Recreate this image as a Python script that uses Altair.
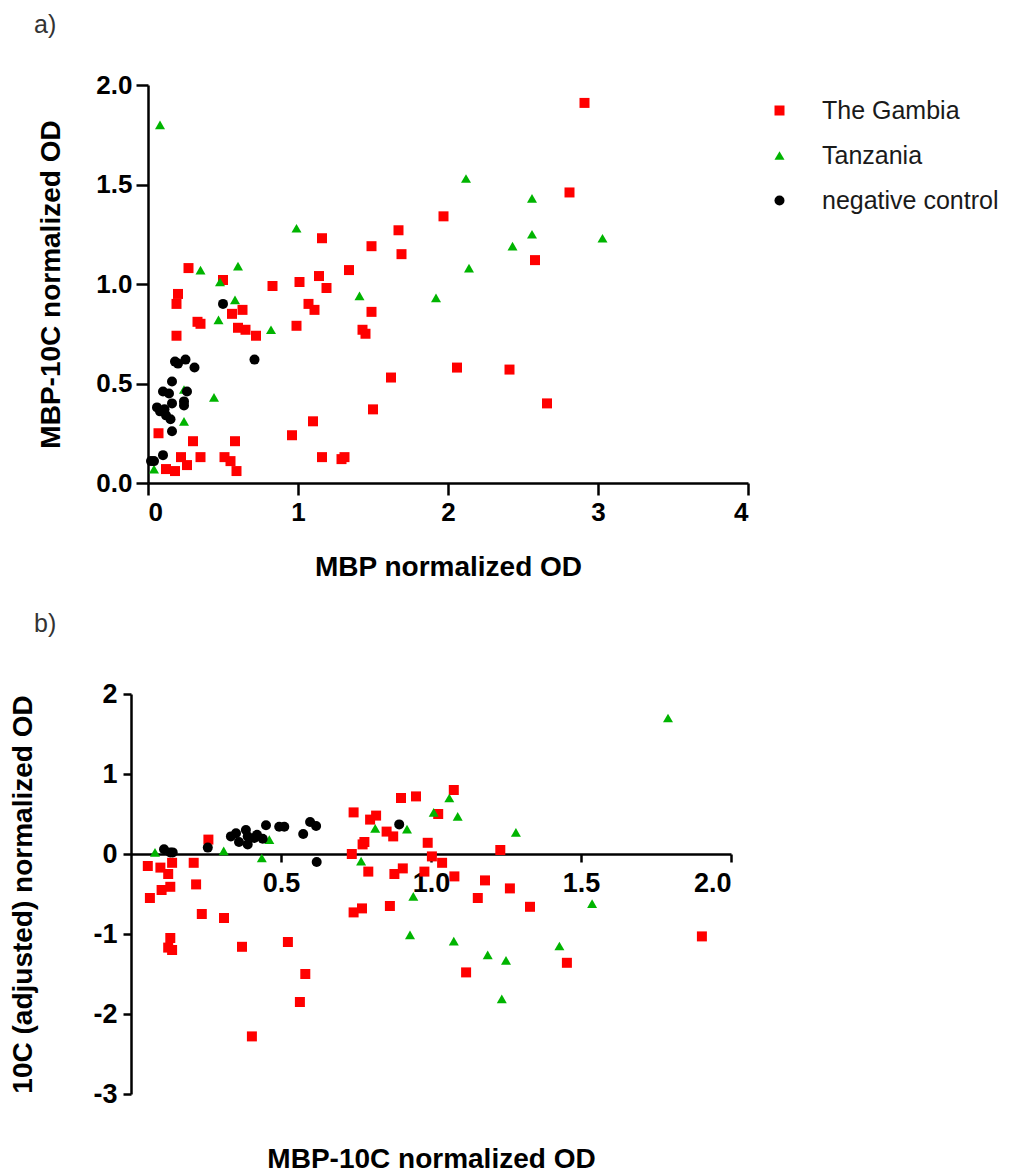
import altair as alt
import pandas as pd

FONT = "Liberation Sans"
groups = ["The Gambia", "Tanzania", "negative control"]
colors = ["#ff0000", "#00b400", "#000000"]
shapes = ["square", "triangle-up", "circle"]

# ---------------- panel a: MBP (x) vs MBP-10C (y) ----------------
a_gambia_x = [0.27, 0.50, 0.20, 0.19, 0.19, 0.33, 0.35, 0.56, 0.63, 0.60, 0.65, 0.72, 0.83, 0.99,
              1.01, 1.07, 1.11, 1.14, 1.16, 1.19, 1.34, 1.49, 1.49, 1.43, 1.45, 1.67, 1.69, 1.97,
              2.06, 1.62, 1.50, 1.10, 0.96, 1.16, 1.29, 1.31, 0.07, 0.30, 0.58, 0.22, 0.35, 0.26,
              0.51, 0.55, 0.59, 0.12, 0.18, 2.91, 2.81, 2.58, 2.41, 2.66]
a_gambia_y = [1.08, 1.02, 0.95, 0.90, 0.74, 0.81, 0.80, 0.85, 0.87, 0.78, 0.77, 0.74, 0.99, 0.79,
              1.01, 0.90, 0.87, 1.04, 1.23, 0.98, 1.07, 1.19, 0.86, 0.77, 0.75, 1.27, 1.15, 1.34,
              0.58, 0.53, 0.37, 0.31, 0.24, 0.13, 0.12, 0.13, 0.25, 0.21, 0.21, 0.13, 0.13, 0.09,
              0.13, 0.11, 0.06, 0.07, 0.06, 1.91, 1.46, 1.12, 0.57, 0.40]
a_tanzania_x = [0.08, 0.99, 0.35, 0.60, 0.48, 0.58, 0.47, 0.82, 1.41, 1.92, 0.44, 0.24, 0.24, 0.04,
                2.12, 2.56, 2.56, 3.03, 2.43, 2.14]
a_tanzania_y = [1.80, 1.28, 1.07, 1.09, 1.01, 0.92, 0.82, 0.77, 0.94, 0.93, 0.43, 0.47, 0.31, 0.07,
                1.53, 1.43, 1.25, 1.23, 1.19, 1.08]
a_negative_x = [0.50, 0.71, 0.18, 0.25, 0.31, 0.16, 0.10, 0.26, 0.24, 0.06, 0.11, 0.16, 0.12, 0.15,
                0.24, 0.16, 0.10, 0.04, 0.02, 0.14, 0.08, 0.20]
a_negative_y = [0.90, 0.62, 0.61, 0.62, 0.58, 0.51, 0.46, 0.46, 0.41, 0.38, 0.37, 0.40, 0.34, 0.32,
                0.39, 0.26, 0.14, 0.11, 0.11, 0.45, 0.36, 0.60]

# ---------------- panel b: MBP-10C (x) vs 10C adjusted (y) ----------------
b_gambia_x = [0.056, 0.098, 0.124, 0.137, 0.063, 0.102, 0.131, 0.209, 0.217, 0.258, 0.236, 0.31,
              0.131, 0.124, 0.137, 0.37, 0.523, 0.581, 0.563, 0.403,
              0.742, 0.736, 0.772, 0.778, 0.791, 0.742, 0.77, 0.817, 0.797, 0.852, 0.874, 0.878,
              0.906, 0.863, 0.989, 1.003, 1.037, 0.978, 1.024,
              0.90, 0.95, 1.076, 1.231, 1.078, 1.18, 1.263, 1.156, 1.33, 1.117, 1.453, 1.903]
b_gambia_y = [-0.15, -0.17, -0.25, -0.11, -0.55, -0.45, -0.41, -0.11, -0.38, 0.18, -0.75, -0.80,
              -1.05, -1.17, -1.20, -1.16, -1.10, -1.50, -1.85, -2.28,
              0.52, 0.00, 0.12, 0.15, -0.22, -0.73, -0.68, 0.48, 0.43, 0.28, 0.22, -0.25,
              -0.18, -0.65, 0.14, -0.03, -0.11, -0.22, 0.50,
              0.70, 0.72, 0.80, 0.05, -0.28, -0.33, -0.43, -0.55, -0.66, -1.48, -1.36, -1.03]
b_tanzania_x = [0.08, 0.309, 0.436, 0.461, 0.814, 0.92, 1.009, 0.767, 0.941, 0.93, 1.061, 1.089,
                1.283, 1.076, 1.189, 1.25, 1.236, 1.428, 1.537, 1.79]
b_tanzania_y = [0.02, 0.04, -0.05, 0.18, 0.32, 0.31, 0.52, -0.09, -0.53, -1.01, 0.70, 0.47,
                0.27, -1.09, -1.26, -1.33, -1.81, -1.15, -0.62, 1.70]
b_negative_x = [0.11, 0.131, 0.139, 0.256, 0.333, 0.35, 0.383, 0.389, 0.389, 0.411, 0.439, 0.45,
                0.494, 0.511, 0.574, 0.597, 0.617, 0.619, 0.894, 0.36, 0.42]
b_negative_y = [0.06, 0.02, 0.02, 0.08, 0.22, 0.26, 0.30, 0.22, 0.12, 0.20, 0.19, 0.36,
                0.34, 0.34, 0.25, 0.40, 0.35, -0.10, 0.37, 0.15, 0.24]


def build(series):
    frames = []
    for g, (xs, ys) in zip(groups, series):
        frames.append(pd.DataFrame({"x": xs, "y": ys, "group": g}))
    return pd.concat(frames, ignore_index=True)


df_a = build([(a_gambia_x, a_gambia_y), (a_tanzania_x, a_tanzania_y), (a_negative_x, a_negative_y)])
df_b = build([(b_gambia_x, b_gambia_y), (b_tanzania_x, b_tanzania_y), (b_negative_x, b_negative_y)])

axis_common = dict(
    labelFont=FONT, titleFont=FONT, titleFontSize=28,
    labelFontWeight="bold", titleFontWeight="bold", labelColor="black", titleColor="black",
    domainColor="black", domainWidth=2.5, tickColor="black", tickWidth=2.5, grid=False,
)

legend_a = alt.Legend(title=None, orient="none", legendX=619, legendY=13,
                      labelFont=FONT, labelFontSize=25, labelColor="#1a1a1a", labelLimit=0,
                      symbolSize=90, labelOffset=30, rowPadding=19, padding=0,
                      symbolStrokeWidth=0)

order_expr = "datum.group == 'The Gambia' ? 0 : (datum.group == 'Tanzania' ? 1 : 2)"

panel_a = alt.Chart(df_a).mark_point(filled=True, opacity=1, strokeWidth=0).encode(
    x=alt.X("x:Q", scale=alt.Scale(domain=[0, 4], nice=False),
            axis=alt.Axis(title="MBP normalized OD", values=[0, 1, 2, 3, 4], format="d",
                          labelFontSize=26, tickSize=12, labelPadding=4, titlePadding=28,
                          **axis_common)),
    y=alt.Y("y:Q", scale=alt.Scale(domain=[0, 2], nice=False),
            axis=alt.Axis(title="MBP-10C normalized OD", values=[0, 0.5, 1, 1.5, 2], format=".1f",
                          labelFontSize=26, tickSize=12, labelPadding=4, titlePadding=30,
                          **axis_common)),
    color=alt.Color("group:N", scale=alt.Scale(domain=groups, range=colors), legend=legend_a),
    shape=alt.Shape("group:N", scale=alt.Scale(domain=groups, range=shapes), legend=legend_a),
    size=alt.Size("group:N", scale=alt.Scale(domain=groups, range=[100, 100, 110]), legend=None),
    order=alt.Order("order:Q"),
).transform_calculate(order=order_expr).properties(
    width=600, height=398,
    title=alt.TitleParams("a)", anchor="start", frame="group", dx=-114, offset=34,
                          font=FONT, fontSize=25, fontWeight="normal", color="#333333"),
)

panel_b = alt.Chart(df_b).mark_point(filled=True, opacity=1, strokeWidth=0).encode(
    x=alt.X("x:Q", scale=alt.Scale(domain=[0, 2], range=[-17, 583], nice=False),
            axis=alt.Axis(title="MBP-10C normalized OD", values=[0.5, 1, 1.5, 2], format=".1f",
                          labelFontSize=27, tickSize=8, labelPadding=8, titlePadding=249,
                          offset=-240, **axis_common)),
    y=alt.Y("y:Q", scale=alt.Scale(domain=[-3, 2], nice=False),
            axis=alt.Axis(title="10C (adjusted) normalized OD", values=[-3, -2, -1, 0, 1, 2],
                          labelExpr="datum.value + ''", labelFontSize=27, tickSize=8,
                          labelPadding=6, titlePadding=55, offset=17, **axis_common)),
    color=alt.Color("group:N", scale=alt.Scale(domain=groups, range=colors), legend=None),
    shape=alt.Shape("group:N", scale=alt.Scale(domain=groups, range=shapes), legend=None),
    size=alt.Size("group:N", scale=alt.Scale(domain=groups, range=[100, 100, 80]), legend=None),
    order=alt.Order("order:Q"),
).transform_calculate(order=order_expr).properties(
    width=583, height=400,
    title=alt.TitleParams("b)", anchor="start", frame="group", dx=-114, offset=43,
                          font=FONT, fontSize=25, fontWeight="normal", color="#333333"),
)

chart = alt.vconcat(panel_a, panel_b, spacing=31).resolve_scale(
    color="independent", shape="independent", size="independent"
).resolve_legend(color="independent", shape="independent").properties(
    padding={"left": 1, "top": 5, "right": 5, "bottom": 5},
    background="white",
).configure_view(stroke=None)

chart.save("out.html", embed_options={"renderer": "svg", "actions": False})
